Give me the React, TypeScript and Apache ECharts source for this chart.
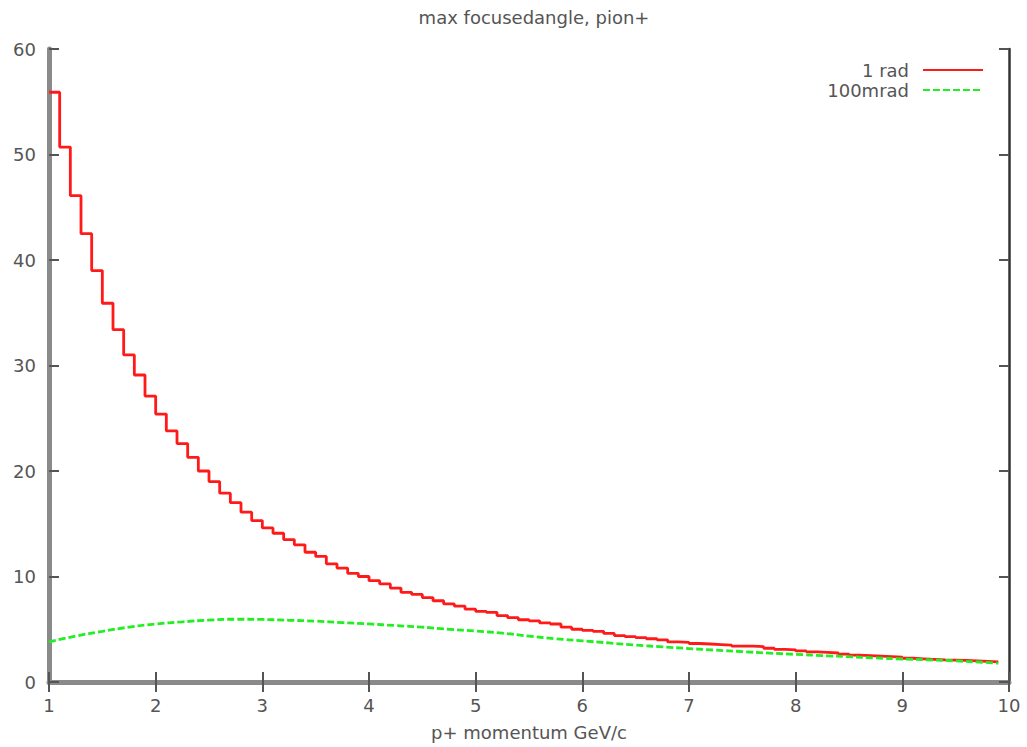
import React, { useEffect, useRef } from "react";
import * as echarts from "echarts";

const titleText = "max focusedangle, pion+";
const xAxisName = "p+ momentum GeV/c";
const seriesNames = ["1 rad", "100mrad"];

// red histogram: bins of width 0.1 starting at p = 1.0
const redBinStart = 1.0;
const redBinWidth = 0.1;
const redValues = [
  55.9, 50.7, 46.1, 42.5, 39.0, 35.9, 33.4, 31.0, 29.1, 27.1,
  25.4, 23.8, 22.6, 21.3, 20.0, 19.0, 17.9, 17.0, 16.1, 15.3,
  14.6, 14.1, 13.5, 13.0, 12.3, 11.9, 11.2, 10.8, 10.3, 10.0,
  9.6, 9.3, 8.9, 8.5, 8.3, 8.0, 7.7, 7.4, 7.2, 6.9,
  6.7, 6.6, 6.3, 6.1, 5.9, 5.8, 5.6, 5.5, 5.2, 5.0,
  4.9, 4.8, 4.6, 4.4, 4.3, 4.2, 4.1, 4.0, 3.8, 3.75,
  3.65, 3.6, 3.55, 3.5, 3.4, 3.4, 3.35, 3.2, 3.1, 3.05,
  2.95, 2.85, 2.8, 2.75, 2.65, 2.55, 2.5, 2.45, 2.4, 2.35,
  2.25, 2.2, 2.15, 2.1, 2.08, 2.05, 2.0, 1.95, 1.9,
];

// green curve
const greenP = [
  1.0, 1.25, 1.5, 1.75, 2.0, 2.25, 2.5, 2.75, 3.0, 3.25, 3.5, 3.75, 4.0,
  4.25, 4.5, 4.75, 5.0, 5.25, 5.5, 5.75, 6.0, 6.25, 6.5, 6.75, 7.0, 7.25,
  7.5, 7.75, 8.0, 8.25, 8.5, 8.75, 9.0, 9.25, 9.5, 9.75, 9.9,
];
const greenV = [
  3.8, 4.35, 4.8, 5.2, 5.5, 5.7, 5.87, 5.95, 5.93, 5.85, 5.77, 5.63, 5.5,
  5.35, 5.2, 5.0, 4.83, 4.63, 4.35, 4.1, 3.9, 3.7, 3.5, 3.33, 3.17, 3.02,
  2.88, 2.74, 2.62, 2.5, 2.4, 2.28, 2.18, 2.1, 2.0, 1.87, 1.78,
];

const xMin = 1, xMax = 10, xStep = 1;
const yMin = 0, yMax = 60, yStep = 10;

const FONT = "'DejaVu Sans', 'Liberation Sans', sans-serif";
const TEXT_COLOR = "#555555";

export default function App() {
  const ref = useRef<HTMLDivElement>(null);
  useEffect(() => {
    if (!ref.current) return;
    const chart = echarts.init(ref.current, null, { renderer: "svg" });

    const redData: number[][] = redValues.map((v, i) => [
      +(redBinStart + i * redBinWidth).toFixed(2),
      v,
    ]);
    redData.push([
      +(redBinStart + redValues.length * redBinWidth).toFixed(2),
      redValues[redValues.length - 1],
    ]);
    const greenData = greenP.map((p, i) => [p, greenV[i]]);

    const lightLine = { show: true, lineStyle: { color: "#8a8a8a", width: 5 } };
    const darkLine = { show: true, lineStyle: { color: "#333", width: 2.5 } };
    const tick = { show: true, inside: true, length: 10, lineStyle: { color: "#555", width: 2 } };

    chart.setOption({
      animation: false,
      backgroundColor: "#ffffff",
      title: {
        text: titleText,
        left: 529,
        textAlign: "center",
        top: 3,
        textStyle: { fontFamily: FONT, fontSize: 18, fontWeight: "normal", color: TEXT_COLOR },
      },
      legend: {
        data: seriesNames,
        orient: "vertical",
        right: 38,
        top: 55,
        align: "right",
        itemWidth: 60,
        itemHeight: 14,
        itemGap: 0,
        itemStyle: { opacity: 0 },
        textStyle: {
          fontFamily: FONT,
          fontSize: 18,
          lineHeight: 20,
          color: TEXT_COLOR,
          padding: [0, 9, 0, 0],
        },
      },
      grid: { left: 49, right: 18, top: 49, bottom: 65 },
      xAxis: [
        {
          type: "value",
          min: xMin,
          max: xMax,
          interval: xStep,
          position: "bottom",
          name: xAxisName,
          nameLocation: "middle",
          nameGap: 41,
          nameTextStyle: { fontFamily: FONT, fontSize: 18, color: TEXT_COLOR },
          axisLine: darkLine,
          axisTick: tick,
          axisLabel: { fontFamily: FONT, fontSize: 18, color: TEXT_COLOR, margin: 14 },
          splitLine: { show: false },
        },
        {
          type: "value",
          min: xMin,
          max: xMax,
          interval: xStep,
          position: "top",
          axisLine: lightLine,
          axisTick: tick,
          axisLabel: { show: false },
          splitLine: { show: false },
        },
      ],
      yAxis: [
        {
          type: "value",
          min: yMin,
          max: yMax,
          interval: yStep,
          position: "left",
          axisLine: lightLine,
          axisTick: tick,
          axisLabel: { fontFamily: FONT, fontSize: 18, color: TEXT_COLOR, margin: 13 },
          splitLine: { show: false },
        },
        {
          type: "value",
          min: yMin,
          max: yMax,
          interval: yStep,
          position: "right",
          axisLine: darkLine,
          axisTick: tick,
          axisLabel: { show: false },
          splitLine: { show: false },
        },
      ],
      series: [
        {
          name: seriesNames[0],
          type: "line",
          step: "end",
          data: redData,
          symbol: "none",
          color: "#ff1a1a",
          lineStyle: { color: "#ff1a1a", width: 2.8 },
          z: 3,
        },
        {
          name: seriesNames[1],
          type: "line",
          smooth: true,
          data: greenData,
          symbol: "none",
          color: "#22ee22",
          lineStyle: { color: "#22ee22", width: 2.8, type: [7, 3] },
          z: 4,
        },
      ],
    });
    return () => chart.dispose();
  }, []);
  return (
    <div
      ref={ref}
      style={{ position: "fixed", left: 0, top: 0, width: 1027, height: 747 }}
    />
  );
}
